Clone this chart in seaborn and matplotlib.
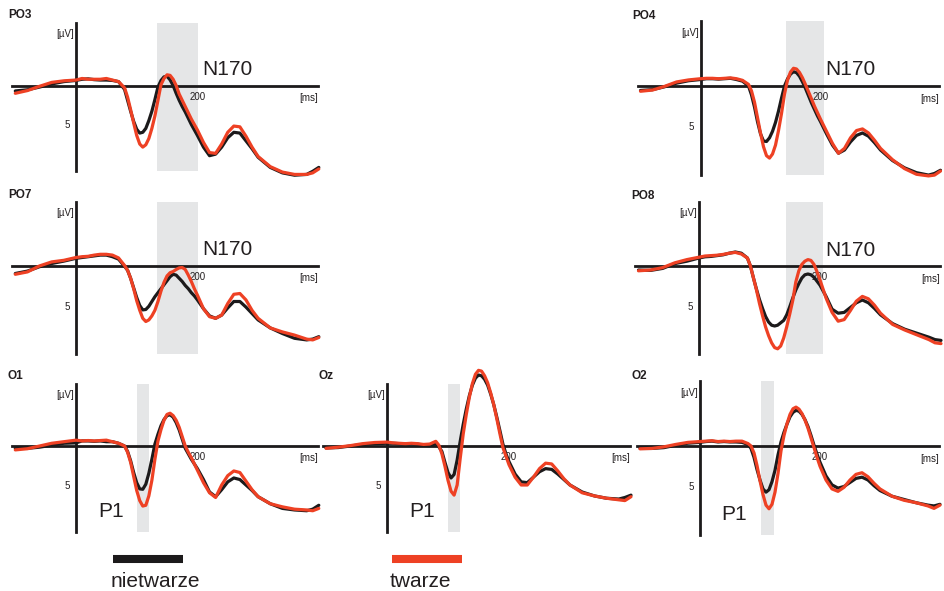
import numpy as np
import pandas as pd
import matplotlib
matplotlib.use("Agg")
import matplotlib.pyplot as plt
from matplotlib.lines import Line2D
import seaborn as sns

# ---------------- data ----------------
TIME_MS = [-100, -80, -60, -40, -20,
           0, 10, 20, 30, 40, 50, 60, 70,
           80, 85, 90, 95, 100, 105, 110, 115, 120, 125, 130, 135, 140, 145, 150,
           155, 160, 165, 170, 175, 180, 185, 190, 195, 200,
           210, 220, 230, 240, 250, 260, 270, 280, 290, 300,
           320, 340, 360, 380, 390, 400]

CONDITIONS = ["nietwarze", "twarze"]

PO3_nietwarze = [0.7, 0.55, 0.2, -0.2, -0.5,
                 -0.65, -0.8, -0.85, -0.75, -0.7, -0.7, -0.65, -0.5,
                 0.5, 1.9, 3.3, 4.6, 5.6, 6.1, 6.0, 5.5, 4.5, 3.3, 1.8, 0.2, -0.64, -1.11, -1.18,
                 -0.72, 0.0, 1.0, 1.9, 2.7, 3.4, 4.2, 5.0, 5.7, 6.4,
                 7.9, 9.0, 8.8, 7.9, 6.7, 6.0, 6.1, 7.1, 8.1, 9.2,
                 10.5, 11.2, 11.5, 11.4, 11.0, 10.5]
PO3_twarze = [1.0, 0.65, 0.1, -0.4, -0.6,
              -0.7, -0.9, -0.8, -0.8, -0.8, -0.9, -0.7, -0.5,
              0.3, 1.5, 3.1, 4.8, 6.4, 7.5, 7.9, 7.6, 6.8, 5.5, 3.9, 1.9, -0.1, -0.9, -1.37,
              -1.3, -0.8, 0.0, 1.1, 1.9, 2.7, 3.5, 4.3, 5.0, 5.7,
              7.3, 8.6, 8.7, 7.5, 6.0, 5.2, 5.3, 6.5, 7.9, 9.1,
              10.4, 11.1, 11.4, 11.4, 11.2, 10.7]

PO4_nietwarze = [0.55, 0.45, 0.1, -0.35, -0.65,
                 -0.8, -0.9, -0.9, -0.85, -0.9, -0.95, -0.8, -0.6,
                 0.0, 1.1, 2.6, 4.4, 5.9, 6.8, 6.85, 6.4, 5.6, 4.5, 3.1, 1.5, 0.0, -0.87, -1.47,
                 -1.76, -1.65, -1.2, -0.5, 0.3, 1.2, 2.1, 2.9, 3.7, 4.4,
                 5.9, 7.3, 8.3, 7.9, 6.9, 6.1, 5.8, 6.2, 7.0, 7.9,
                 9.2, 10.1, 10.7, 11.0, 10.8, 10.4]
PO4_twarze = [0.65, 0.5, 0.05, -0.5, -0.75,
              -0.9, -0.95, -0.95, -0.9, -0.95, -1.0, -0.9, -0.7,
              -0.2, 0.6, 2.0, 3.9, 5.8, 7.5, 8.6, 8.9, 8.4, 7.3, 5.5, 3.4, 1.0, -0.73, -1.72,
              -2.19, -2.1, -1.67, -1.0, -0.17, 0.7, 1.6, 2.5, 3.3, 4.1,
              5.6, 7.1, 8.3, 7.7, 6.4, 5.5, 5.3, 5.8, 6.7, 7.7,
              9.1, 10.2, 10.9, 11.1, 11.0, 10.5]

PO7_nietwarze = [1.0, 0.7, 0.15, -0.25, -0.55,
                 -0.9, -1.0, -1.1, -1.2, -1.3, -1.3, -1.1, -0.8,
                 0.1, 0.6, 1.6, 2.8, 4.0, 5.0, 5.55, 5.5, 5.1, 4.5, 3.9, 3.4, 2.9, 2.4, 1.9,
                 1.4, 1.1, 1.2, 1.6, 2.0, 2.5, 2.9, 3.4, 3.8, 4.3,
                 5.4, 6.3, 6.6, 6.2, 5.3, 4.5, 4.5, 5.2, 6.0, 6.8,
                 7.8, 8.5, 9.1, 9.3, 9.2, 8.9]
PO7_twarze = [1.1, 0.8, 0.05, -0.45, -0.65,
              -1.0, -1.1, -1.15, -1.3, -1.4, -1.4, -1.3, -0.95,
              0.0, 0.6, 1.6, 2.9, 4.4, 5.6, 6.6, 7.0, 6.8, 6.3, 5.6, 4.5, 3.2, 2.1, 1.3,
              0.9, 0.75, 0.5, 0.3, 0.25, 0.5, 1.2, 2.0, 2.9, 3.7,
              5.4, 6.4, 6.6, 6.2, 4.75, 3.6, 3.5, 4.3, 5.6, 6.6,
              7.8, 8.3, 8.7, 9.2, 9.3, 9.0]

PO8_nietwarze = [0.5, 0.55, 0.3, -0.3, -0.6,
                 -1.0, -1.15, -1.2, -1.3, -1.4, -1.6, -1.75, -1.6,
                 -1.0, 0.0, 1.5, 2.9, 4.2, 5.3, 6.3, 7.0, 7.4, 7.5, 7.4, 7.1, 6.8, 6.1, 5.1,
                 4.0, 3.0, 2.2, 1.5, 1.1, 1.0, 1.1, 1.4, 1.9, 2.4,
                 3.8, 5.4, 5.9, 5.8, 5.2, 4.6, 4.25, 4.6, 5.3, 6.1,
                 7.2, 7.9, 8.4, 8.9, 9.2, 9.3]
PO8_twarze = [0.6, 0.5, 0.2, -0.4, -0.8,
              -1.1, -1.25, -1.3, -1.35, -1.45, -1.6, -1.7, -1.5,
              -1.0, 0.0, 1.5, 3.0, 4.7, 6.2, 7.6, 8.7, 9.6, 10.2, 10.35, 10.0, 9.0, 7.6, 6.0,
              4.3, 2.0, 0.6, -0.2, -0.6, -0.8, -0.7, -0.2, 0.7, 1.75,
              4.0, 5.8, 6.9, 6.7, 5.6, 4.4, 3.8, 4.1, 4.9, 5.9,
              7.3, 8.0, 8.6, 9.2, 9.6, 9.7]

O1_nietwarze = [0.3, 0.3, 0.15, -0.1, -0.35,
                -0.4, -0.65, -0.65, -0.6, -0.65, -0.55, -0.55, -0.35,
                0.0, 0.7, 1.9, 3.4, 4.7, 5.5, 5.55, 4.9, 3.5, 1.7, -0.25, -1.5, -2.6, -3.4, -3.9,
                -4.0, -3.7, -3.0, -2.06, -0.88, 0.3, 1.0, 1.7, 2.3, 2.9,
                4.3, 5.9, 6.5, 5.6, 4.6, 4.1, 4.3, 5.0, 5.7, 6.5,
                7.4, 8.0, 8.2, 8.3, 8.1, 7.6]
O1_twarze = [0.5, 0.35, 0.0, -0.35, -0.55,
             -0.75, -0.65, -0.7, -0.65, -0.7, -0.75, -0.55, -0.35,
             0.0, 0.8, 2.1, 3.9, 5.7, 7.0, 7.7, 7.6, 6.4, 4.4, 1.7, -0.63, -2.1, -3.3, -4.05,
             -4.2, -3.9, -3.3, -2.4, -1.2, 0.0, 0.8, 1.5, 2.3, 3.1,
             4.7, 6.0, 6.6, 5.0, 3.8, 3.2, 3.4, 4.5, 5.6, 6.5,
             7.4, 7.8, 8.1, 8.2, 8.3, 8.0]

Oz_nietwarze = [0.25, 0.2, 0.0, -0.2, -0.3,
                -0.35, -0.35, -0.3, -0.25, -0.3, -0.25, -0.1, -0.05,
                -0.3, 0.1, 0.7, 2.1, 3.4, 4.1, 3.65, 1.8, -0.6, -2.8, -4.75, -6.45, -7.8, -8.7, -9.1,
                -9.0, -8.55, -7.8, -6.65, -5.3, -3.7, -2.0, -0.25, 1.0, 2.0,
                3.6, 4.6, 4.7, 4.0, 3.3, 2.9, 3.0, 3.6, 4.3, 5.0,
                5.9, 6.4, 6.7, 6.8, 6.6, 6.3]
Oz_twarze = [0.3, 0.15, -0.05, -0.3, -0.45,
             -0.5, -0.4, -0.35, -0.3, -0.35, -0.3, -0.2, -0.25,
             -0.6, -0.1, 1.0, 2.6, 4.4, 5.8, 6.3, 5.0, 1.6, -1.57, -4.05, -6.25, -8.0, -9.2, -9.7,
             -9.6, -9.0, -8.1, -6.8, -5.3, -3.5, -1.6, 0.2, 1.3, 2.4,
             4.0, 5.0, 5.0, 4.0, 2.9, 2.2, 2.3, 3.2, 4.2, 5.0,
             6.0, 6.4, 6.7, 6.9, 7.0, 6.5]

O2_nietwarze = [0.3, 0.3, 0.2, -0.1, -0.35,
                -0.45, -0.55, -0.6, -0.5, -0.55, -0.5, -0.5, -0.45,
                -0.2, 0.3, 1.4, 2.9, 4.2, 5.3, 5.7, 5.4, 4.4, 3.0, 1.1, -0.5, -1.7, -2.7, -3.6,
                -4.15, -4.4, -4.3, -3.9, -3.25, -2.4, -1.3, -0.1, 1.0, 2.0,
                3.7, 4.8, 5.2, 5.0, 4.5, 4.0, 3.85, 4.2, 4.9, 5.5,
                6.2, 6.6, 7.0, 7.3, 7.4, 7.2]
O2_twarze = [0.35, 0.3, 0.1, -0.2, -0.45,
             -0.55, -0.6, -0.65, -0.55, -0.6, -0.55, -0.6, -0.6,
             -0.3, 0.0, 0.85, 2.4, 4.3, 6.0, 7.3, 7.75, 7.2, 5.7, 3.4, 0.6, -1.3, -2.75, -3.9,
             -4.6, -4.8, -4.55, -4.0, -3.2, -2.2, -1.0, 0.2, 1.4, 2.5,
             4.2, 5.3, 5.6, 5.1, 4.2, 3.5, 3.3, 3.8, 4.6, 5.3,
             6.2, 6.7, 7.0, 7.4, 7.7, 7.3]

CHANNELS = ["PO3", "PO4", "PO7", "PO8", "O1", "Oz", "O2"]
SERIES = {
    "PO3": (PO3_nietwarze, PO3_twarze),
    "PO4": (PO4_nietwarze, PO4_twarze),
    "PO7": (PO7_nietwarze, PO7_twarze),
    "PO8": (PO8_nietwarze, PO8_twarze),
    "O1": (O1_nietwarze, O1_twarze),
    "Oz": (Oz_nietwarze, Oz_twarze),
    "O2": (O2_nietwarze, O2_twarze),
}
COMPONENT = {"PO3": "N170", "PO4": "N170", "PO7": "N170", "PO8": "N170",
             "O1": "P1", "Oz": "P1", "O2": "P1"}
WINDOW_MS = {"PO3": (134, 201), "PO4": (143, 205), "PO7": (134, 201), "PO8": (143, 205),
             "O1": (100, 120), "Oz": (100, 120), "O2": (102, 123)}

# ---------------- layout (pixels) ----------------
W, H = 945, 591
# origin pixel (x of 0 ms, y of 0 uV), px per ms, px per uV
LAYOUT = {
    "PO3": (76.0, 85.5, 0.607, 7.8),
    "PO4": (700.5, 86.0, 0.600, 8.1),
    "PO7": (76.0, 265.5, 0.607, 8.0),
    "PO8": (699.0, 266.0, 0.605, 8.0),
    "O1": (76.0, 446.0, 0.607, 7.8),
    "Oz": (387.0, 446.0, 0.610, 7.8),
    "O2": (700.0, 446.0, 0.600, 8.1),
}
XLIM = (-108, 402)
YLIM = (12.0, -8.6)  # positive down
YAX = (-8.0, 11.0)

BLACK = "#1c1a1b"
RED = "#ee4124"
GREY_BAND = "#e5e6e7"
TXT = "#231f20"
PALETTE = {"nietwarze": BLACK, "twarze": RED}

sns.set_style("white")
plt.rcParams["font.family"] = ["Liberation Sans", "DejaVu Sans"]

fig = plt.figure(figsize=(W / 100, H / 100), dpi=100)
fig.patch.set_facecolor("white")


def fig_xy(px, py):
    return px / W, 1 - py / H


for ch in CHANNELS:
    x0, y0, pms, puv = LAYOUT[ch]
    left = x0 + XLIM[0] * pms
    right = x0 + XLIM[1] * pms
    top = y0 + YLIM[1] * puv
    bottom = y0 + YLIM[0] * puv
    ax = fig.add_axes([left / W, 1 - bottom / H, (right - left) / W, (bottom - top) / H])
    ax.set_facecolor("none")

    nt, tw = SERIES[ch]
    df = pd.DataFrame({
        "ms": TIME_MS * 2,
        "uV": list(nt) + list(tw),
        "condition": ["nietwarze"] * len(TIME_MS) + ["twarze"] * len(TIME_MS),
    })

    w0, w1 = WINDOW_MS[ch]
    ax.fill_betweenx(list(YAX), w0, w1, color=GREY_BAND, lw=0, zorder=0.5)

    sns.lineplot(data=df, x="ms", y="uV", hue="condition", hue_order=CONDITIONS,
                 palette=PALETTE, estimator=None, sort=False, legend=False,
                 linewidth=2.3, ax=ax, zorder=3)
    for ln in ax.lines:
        ln.set_clip_on(False)
        ln.set_solid_capstyle("round")
        ln.set_solid_joinstyle("round")

    ax.set_xlim(*XLIM)
    ax.set_ylim(*YLIM)
    ax.set_xlabel("")
    ax.set_ylabel("")

    for s in ["top", "right"]:
        ax.spines[s].set_visible(False)
    ax.spines["left"].set_position(("data", 0))
    ax.spines["bottom"].set_position(("data", 0))
    ax.spines["left"].set_bounds(*YAX)
    ax.spines["bottom"].set_bounds(-105, 398)
    for s in ["left", "bottom"]:
        ax.spines[s].set_linewidth(2.0)
        ax.spines[s].set_color(BLACK)
        ax.spines[s].set_zorder(2.5)

    ax.set_xticks([100, 200, 300])
    ax.set_xticklabels(["", "200", ""])
    ax.set_yticks([-5, 5, 10])
    ax.set_yticklabels(["", "5", ""])
    ax.tick_params(axis="x", direction="inout", length=4, width=0.8, pad=2.5,
                   labelsize=7, colors=TXT)
    ax.tick_params(axis="y", direction="out", length=3, width=0.8, pad=1.5,
                   labelsize=7, colors=TXT)

    ax.text(398, 0.95, "[ms]", ha="right", va="top", fontsize=7, color=TXT)
    ax.text(-3, -6.6, "[µV]", ha="right", va="center", fontsize=7, color=TXT)

    if COMPONENT[ch] == "N170":
        ax.text(208, -2.0, "N170", ha="left", va="center", fontsize=15, color=TXT)
    else:
        ax.text(36, 8.4, "P1", ha="left", va="center", fontsize=15, color=TXT)

    fx, fy = fig_xy(x0 - 68, y0 - 70)
    fig.text(fx, fy, ch, ha="left", va="center", fontsize=8.5, fontweight="bold", color=TXT)

# ---------------- legend ----------------
for (xa, xb, label, col) in [(113, 183, "nietwarze", BLACK), (392, 462, "twarze", RED)]:
    (fa, fy), (fb, _) = fig_xy(xa, 559), fig_xy(xb, 559)
    fig.add_artist(Line2D([fa, fb], [fy, fy], color=col, lw=5.8, solid_capstyle="butt",
                          transform=fig.transFigure))
    tx, ty = fig_xy(xa - 2.5, 587)
    fig.text(tx, ty, label, ha="left", va="baseline", fontsize=15, color=TXT)

fig.savefig("out.png", dpi=100, facecolor="white")
